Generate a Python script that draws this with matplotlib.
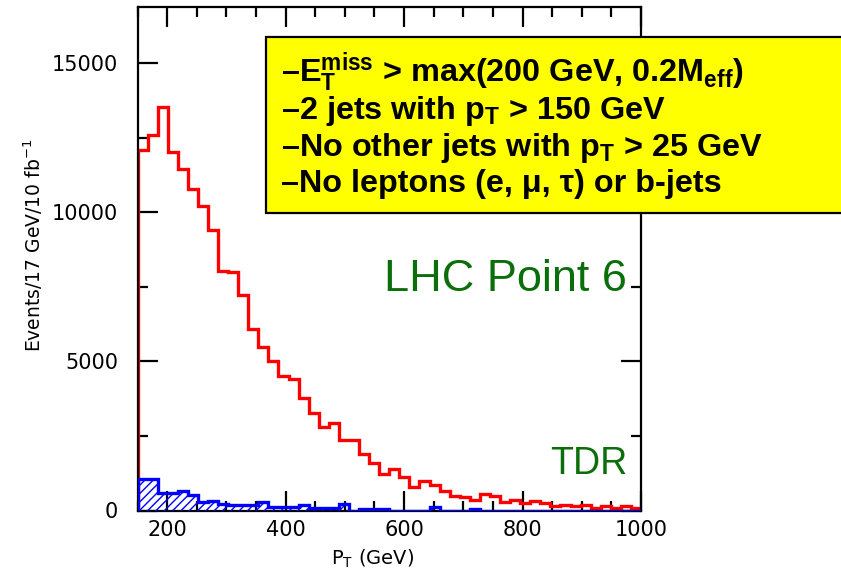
import numpy as np
import matplotlib
matplotlib.use("Agg")
import matplotlib.pyplot as plt
from matplotlib.patches import Rectangle
from matplotlib.ticker import MultipleLocator

plt.rcParams['font.family'] = ['Liberation Sans', 'DejaVu Sans']
plt.rcParams['mathtext.fontset'] = 'custom'
plt.rcParams['mathtext.rm'] = 'Liberation Sans:bold'
plt.rcParams['mathtext.it'] = 'Liberation Sans:bold'
plt.rcParams['mathtext.bf'] = 'Liberation Sans:bold'
plt.rcParams['hatch.linewidth'] = 1.0
plt.rcParams['hatch.color'] = 'blue'

# 50 bins of 17 GeV from 150 to 1000 GeV
edges = np.linspace(150, 1000, 51)

# signal (red), events / 17 GeV / 10 fb^-1
signal = [12090, 12600, 13550, 12010, 11450, 10800, 10230, 9420, 8050, 8010,
          7240, 6080, 5500, 5000, 4510, 4420, 3760, 3270, 2800, 2940,
          2380, 2380, 1880, 1600, 1235, 1405, 1125, 785, 985, 840,
          648, 503, 468, 358, 558, 503, 279, 350, 259, 309,
          259, 144, 174, 144, 174, 100, 144, 100, 144, 80]

# background (blue hatched)
backgr = [1045, 1045, 598, 598, 638, 518, 299, 319, 219, 184,
          184, 184, 299, 130, 130, 130, 184, 80, 80, 80,
          219, 0, 40, 40, 40, 0, 0, 0, 0, 110,
          0, 0, 0, 60, 0, 0, 0, 0, 0, 0,
          0, 0, 0, 0, 0, 0, 0, 0, 0, 0]

cuts = [r'–E$_\mathrm{T}^\mathrm{miss}$ > max(200 GeV, 0.2M$_\mathrm{eff}$)',
        r'–2 jets with p$_\mathrm{T}$ > 150 GeV',
        r'–No other jets with p$_\mathrm{T}$ > 25 GeV',
        '–No leptons (e, μ, τ) or b-jets']

W, H = 841, 573
fig = plt.figure(figsize=(W / 100, H / 100), dpi=100)
ax = fig.add_axes([137.5 / W, 1 - 510.5 / H, 503.5 / W, 503.8 / H])

ax.stairs(signal, edges, color='red', lw=2.4, baseline=0, zorder=2)
# hatch as its own artist, outline drawn on top
ax.fill_between(edges, np.r_[backgr, backgr[-1]], step='post',
                facecolor='none', edgecolor='blue', hatch='////',
                linewidth=0, zorder=3)
ax.stairs(backgr, edges, color='blue', lw=2.4, baseline=0, zorder=4)

ax.set_xlim(150, 1000)
ax.set_ylim(0, 16900)
ax.xaxis.set_major_locator(MultipleLocator(200))
ax.xaxis.set_minor_locator(MultipleLocator(50))
ax.yaxis.set_major_locator(MultipleLocator(5000))
ax.yaxis.set_minor_locator(MultipleLocator(2500))
ax.tick_params(which='both', direction='in', top=True, right=True, width=1.6)
ax.tick_params(which='major', length=14.5)
ax.tick_params(which='minor', length=7)
ax.tick_params(axis='x', labelsize=15, pad=7)
ax.tick_params(axis='y', labelsize=15, pad=14)
for lab in ax.get_xticklabels() + ax.get_yticklabels():
    lab.set_family('DejaVu Sans')
for s in ax.spines.values():
    s.set_linewidth(1.6)

ax.set_xlabel(r'P$_\mathrm{T}$ (GeV)', fontsize=14, family='DejaVu Sans',
              math_fontfamily='dejavusans')
ax.xaxis.set_label_coords(0.466, -0.074)
ax.set_ylabel(r'Events/17 GeV/10 fb$^{-1}$', fontsize=13.5, family='DejaVu Sans',
              math_fontfamily='dejavusans')
ax.yaxis.set_label_coords(-0.184, 0.527)


def px(x, y):
    return x / W, 1 - y / H


green = '#0a6e0a'
fig.text(*px(627, 291), 'LHC Point 6', fontsize=32.5, color=green,
         ha='right', va='baseline')
fig.text(*px(627, 474), 'TDR', fontsize=27, color=green,
         ha='right', va='baseline')

box = Rectangle(px(266, 212.7), (860 - 266) / W, (212.7 - 37.3) / H,
                transform=fig.transFigure, facecolor='#ffff00',
                edgecolor='black', lw=1.6, zorder=5)
fig.add_artist(box)
for i, line in enumerate(cuts):
    fig.text(*px(281, 83 + 36.4 * i), line, fontsize=23.3, fontweight='bold',
             ha='left', va='baseline', zorder=6)

fig.savefig('out.png', dpi=100)
